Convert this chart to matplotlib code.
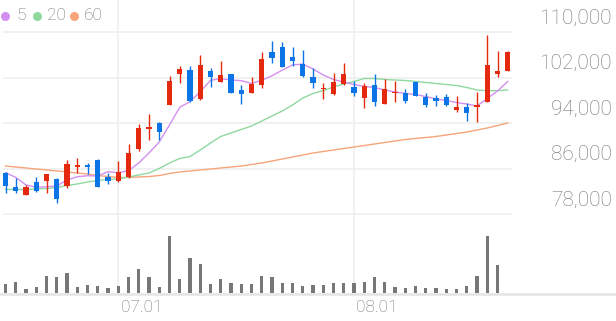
import matplotlib
matplotlib.use("Agg")
import matplotlib.pyplot as plt
import matplotlib.transforms as mtransforms
from matplotlib.lines import Line2D

# daily candles, oldest first (KRW)
opens = [85260, 82750, 81340, 83680, 83860, 84210, 82920, 86320, 86620, 87500,
         84450, 83800, 84560, 89430, 93000, 93950, 97170, 102560, 103320, 98170,
         103090, 101260, 102620, 99800, 99220, 100680, 106430, 107310, 105550, 104320,
         102140, 99930, 99100, 100860, 100280, 98340, 100680, 97340, 99330, 99220,
         101160, 98620, 98340, 98620, 96290, 96760, 96760, 97750, 102620, 103140]
highs = [85440, 84380, 83100, 84450, 85120, 84330, 87500, 87790, 86910, 87620,
         85160, 87320, 90260, 93770, 95530, 94090, 102260, 104020, 104020, 105960,
         103620, 104950, 102700, 100680, 102140, 106430, 108420, 108290, 107310, 106840,
         103720, 100980, 102740, 104600, 101380, 100980, 102560, 101680, 101380, 99980,
         101260, 99220, 98920, 99100, 98750, 97460, 99400, 109470, 106660, 106710]
lows = [81690, 81640, 81290, 81820, 81750, 79880, 82520, 85160, 85030, 82700,
        83280, 83680, 84280, 89130, 91010, 91010, 97080, 101090, 97780, 98130,
        100380, 101210, 99220, 97340, 99190, 100100, 104600, 103850, 104020, 102140,
        100100, 98170, 98920, 100630, 98750, 96580, 96990, 97300, 97750, 97460,
        98750, 96760, 97040, 96990, 95990, 94350, 94120, 97690, 102140, 103140]
closes = [82920, 82040, 82700, 82100, 84980, 80640, 86740, 86620, 86210, 82800,
          83860, 85330, 88670, 93170, 93350, 92370, 101440, 103490, 97870, 104250,
          102040, 102440, 99330, 99100, 100800, 105200, 105480, 103900, 104900, 102320,
          101090, 100100, 101260, 102620, 99220, 100560, 97750, 99980, 99500, 97920,
          98800, 97170, 97920, 97170, 96760, 95710, 97170, 104200, 103140, 106540]
# volume, thousand shares
volumes = [290, 340, 130, 190, 510, 500, 600, 180, 240, 230,
           150, 230, 490, 740, 490, 180, 1720, 430, 1050, 890,
           270, 420, 300, 270, 270, 520, 490, 310, 300, 220,
           250, 240, 300, 320, 310, 350, 490, 330, 190, 150,
           230, 160, 160, 140, 140, 210, 530, 1730, 850, 20]

ma5 = [85260, 84450, 83100, 82700, 82800, 82920, 83980, 84560, 84730, 84680,
       85440, 85260, 85610, 86970, 88730, 90660, 93650, 96760, 97750, 99500,
       101500, 101800, 101560, 101440, 100950, 101510, 102300, 103300, 104200, 104370,
       103490, 102440, 101650, 101210, 100770, 100420, 100240, 99800, 99450, 99190,
       99010, 98660, 98220, 97960, 97600, 97340, 96990, 98310, 99630, 101300]
ma20 = [82340, 82310, 82310, 82400, 82480, 82660, 83010, 83280, 83630, 83890,
        84070, 84150, 84510, 84860, 85210, 86000, 86970, 87760, 88110, 89250,
        90480, 91630, 92240, 92860, 93470, 94350, 95230, 96110, 97170, 98400,
        99190, 99710, 100330, 100860, 101300, 101820, 101820, 101650, 101560, 101470,
        101300, 101120, 100950, 100770, 100590, 100240, 99800, 99680, 99680, 99800]
ma60 = [86440, 86260, 86090, 85910, 85740, 85560, 85390, 85210, 85030, 84770,
        84590, 84420, 84420, 84510, 84590, 84770, 85120, 85390, 85560, 85740,
        85910, 86090, 86260, 86440, 86700, 86970, 87320, 87670, 88020, 88370,
        88730, 88990, 89250, 89520, 89780, 90040, 90310, 90570, 90840, 91100,
        91280, 91450, 91630, 91890, 92150, 92420, 92770, 93120, 93560, 94000]

price_ticks = [78000, 86000, 94000, 102000, 110000]
month_idx = [11, 34]
month_labels = ["07.01", "08.01"]
legend_labels = ["5", "20", "60"]

RED = "#e5290e"
BLUE = "#0b74e6"
MA_COLORS = ["#d38ff0", "#8fd9a0", "#f7a47a"]
GRID = "#efefef"
TEXT = "#747474"
FONT = ["Roboto", "DejaVu Sans"]

W, H = 616, 321
X0, STEP = 5.5, 10.25  # pixel x of first candle, pixels per candle


def fy(py):
    """pixel row -> figure fraction"""
    return 1 - py / H


def price_at(py):
    # gridline 110,000 sits at row 32, 78,000 at row 214
    return 110000 - (py - 32) * 32000 / 182


fig = plt.figure(figsize=(W / 100, H / 100), dpi=100)
xlim = (-X0 / STEP, (W - X0) / STEP)
n = len(closes)
xs = list(range(n))

# background: vertical month lines + volume baseline
bg = fig.add_axes([0, 0, 1, 1])
bg.set_xlim(*xlim)
bg.set_ylim(0, 1)
bg.axis("off")
bg.vlines(month_idx, fy(293), 1, color=GRID, lw=1.2)
bg.axhline(fy(294), color="#e4e4e4", lw=1.8)

# price panel
ax = fig.add_axes([0, fy(230), 1, 230 / H])
ax.set_xlim(*xlim)
ax.set_ylim(price_at(230), price_at(0))
ax.axis("off")
ax.hlines(price_ticks, (3 - X0) / STEP, (512 - X0) / STEP, color=GRID, lw=1.2, zorder=0)

for i in xs:
    o, h, l, c = opens[i], highs[i], lows[i], closes[i]
    col = RED if c >= o else BLUE
    ax.vlines(i, l, h, color=col, lw=1.0, zorder=3)
    body = max(abs(c - o), 180)
    ax.bar(i, body, bottom=min(o, c), width=0.5, color=col, lw=0, zorder=3)

for ma, col in zip([ma60, ma20, ma5], MA_COLORS[::-1]):
    ax.plot(xs, ma, color=col, lw=1.0, zorder=2)

# price labels sit above their gridline
lab_tr = mtransforms.blended_transform_factory(ax.transAxes, ax.transData) + \
    mtransforms.ScaledTranslation(0, 14 / 100, fig.dpi_scale_trans)
for p in price_ticks:
    ax.text(612 / W, p, f"{p:,}", transform=lab_tr, ha="right", va="center",
            fontsize=15, color=TEXT, family=FONT, weight="light")

# volume panel
vax = fig.add_axes([0, fy(293.3), 1, (293.3 - 225) / H])
vax.set_xlim(*xlim)
vax.set_ylim(0, 2049)
vax.axis("off")
vax.bar(xs, volumes, width=0.34, color="#777777", lw=0)

# month labels, shifted right of the grid line
mon_tr = mtransforms.blended_transform_factory(bg.transData, fig.transFigure) + \
    mtransforms.ScaledTranslation(23 / 100, 0, fig.dpi_scale_trans)
for i, lab in zip(month_idx, month_labels):
    bg.text(i, fy(308), lab, transform=mon_tr, ha="center", va="center",
            fontsize=12.5, color=TEXT, family=FONT, weight="light")

# legend
for lab, col, xd, xt in zip(legend_labels, MA_COLORS, [5.3, 37.3, 74], [16.5, 46.5, 83.5]):
    fig.add_artist(Line2D([xd / W], [fy(16)], marker="o", ms=6.5, color=col,
                          mec="none", transform=fig.transFigure))
    fig.text(xt / W, fy(16), lab, ha="left", va="center", fontsize=12.5,
             color=TEXT, family=FONT, weight="light")

fig.savefig("out.png", dpi=100)
